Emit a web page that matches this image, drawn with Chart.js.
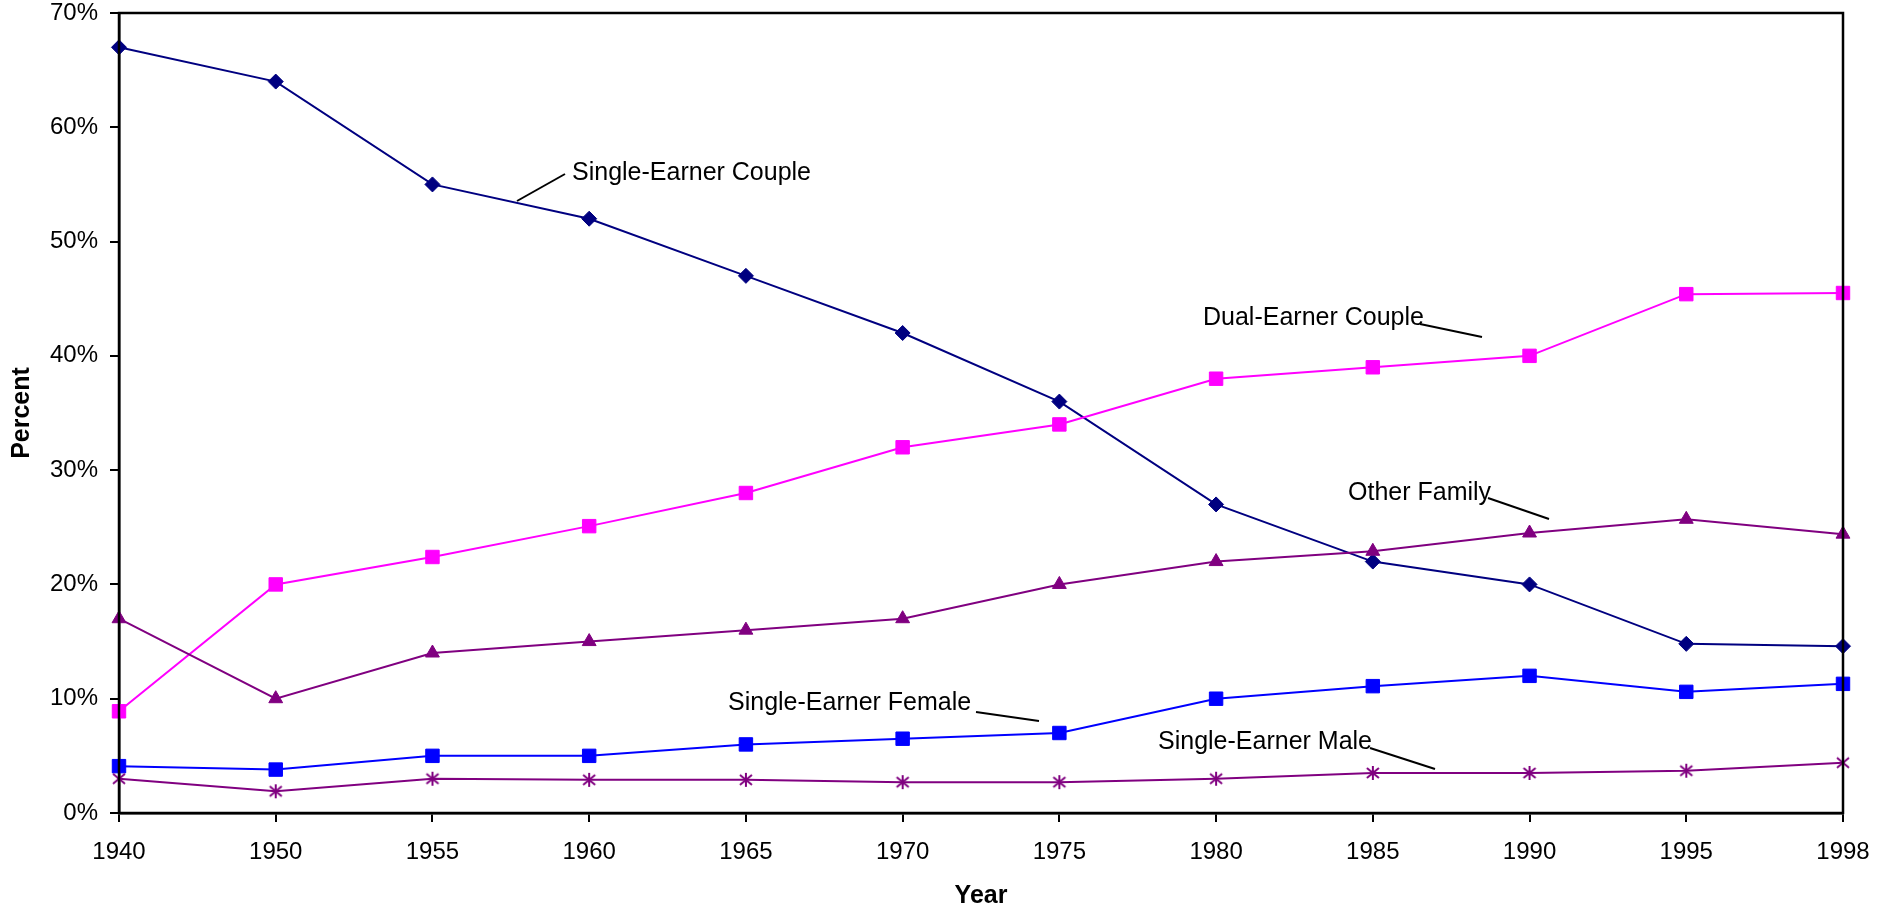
<!DOCTYPE html>
<html>
<head>
<meta charset="utf-8">
<script src="https://cdn.jsdelivr.net/npm/chart.js@4/dist/chart.umd.min.js"></script>
<style>
  html, body { margin: 0; padding: 0; background: #fff; }
  #wrap { width: 1894px; height: 912px; }
</style>
</head>
<body>
<div id="wrap"><canvas id="chart" width="1894" height="912"></canvas></div>
<script>
// data
const years = ['1940', '1950', '1955', '1960', '1965', '1970', '1975', '1980', '1985', '1990', '1995', '1998'];
const singleEarnerCouple = [67, 64, 55, 52, 47, 42, 36, 27, 22, 20, 14.8, 14.6];
const dualEarnerCouple = [8.9, 20, 22.4, 25.1, 28, 32, 34, 38, 39, 40, 45.4, 45.5];
const otherFamily = [17, 10, 14, 15, 16, 17, 20, 22, 22.9, 24.5, 25.7, 24.4];
const singleEarnerFemale = [4.1, 3.8, 5, 5, 6, 6.5, 7, 10, 11.1, 12, 10.6, 11.3];
const singleEarnerMale = [3, 1.9, 3, 2.9, 2.9, 2.7, 2.7, 3, 3.5, 3.5, 3.7, 4.4];

const FONT = 'Liberation Sans, Arial, sans-serif';

// callout labels with leader lines (canvas px)
const callouts = [
  { text: 'Single-Earner Couple', x: 572, y: 173, line: [565, 174, 517, 201] },
  { text: 'Dual-Earner Couple', x: 1203, y: 318, line: [1420, 324, 1482, 337] },
  { text: 'Other Family', x: 1348, y: 493, line: [1488, 498, 1549, 519] },
  { text: 'Single-Earner Female', x: 728, y: 703, line: [976, 712, 1039, 721] },
  { text: 'Single-Earner Male', x: 1158, y: 742, line: [1370, 748, 1435, 769] }
];

// Excel-like asterisk marker: X plus a vertical bar
function asterisk(color) {
  const c = document.createElement('canvas');
  c.width = 16; c.height = 16;
  const g = c.getContext('2d');
  g.strokeStyle = color;
  g.lineWidth = 2;
  g.beginPath();
  g.moveTo(2, 3); g.lineTo(14, 13);
  g.moveTo(14, 3); g.lineTo(2, 13);
  g.moveTo(8, 1); g.lineTo(8, 15);
  g.stroke();
  return c;
}

const calloutPlugin = {
  id: 'callouts',
  afterDraw(chart) {
    const ctx = chart.ctx;
    const a = chart.chartArea;
    ctx.save();
    // frame on top and right
    ctx.strokeStyle = '#000';
    ctx.lineWidth = 2.5;
    ctx.strokeRect(a.left, a.top, a.right - a.left, a.bottom - a.top);
    ctx.font = '25px ' + FONT;
    ctx.fillStyle = '#000';
    ctx.textAlign = 'left';
    ctx.textBaseline = 'middle';
    ctx.lineWidth = 2;
    callouts.forEach(c => {
      ctx.fillText(c.text, c.x, c.y);
      ctx.beginPath();
      ctx.moveTo(c.line[0], c.line[1]);
      ctx.lineTo(c.line[2], c.line[3]);
      ctx.stroke();
    });
    ctx.restore();
  }
};

const whiteBg = {
  id: 'whiteBg',
  beforeDraw(chart) {
    const ctx = chart.ctx;
    ctx.save();
    ctx.fillStyle = '#fff';
    ctx.fillRect(0, 0, chart.width, chart.height);
    ctx.restore();
  }
};

function series(label, data, color, style, radius) {
  return {
    label: label,
    data: data,
    borderColor: color,
    backgroundColor: color,
    borderWidth: 2,
    pointStyle: style,
    pointRadius: radius,
    pointBorderWidth: 1,
    pointBackgroundColor: color,
    pointBorderColor: color,
    tension: 0,
    clip: false
  };
}

new Chart(document.getElementById('chart'), {
  type: 'line',
  data: {
    labels: years,
    datasets: [
      series('Single-Earner Male', singleEarnerMale, '#800080', asterisk('#800080'), 8),
      series('Single-Earner Female', singleEarnerFemale, '#0000FF', 'rect', 9.5),
      series('Other Family', otherFamily, '#800080', 'triangle', 8),
      series('Dual-Earner Couple', dualEarnerCouple, '#FF00FF', 'rect', 9.5),
      series('Single-Earner Couple', singleEarnerCouple, '#000080', 'rectRot', 7.5)
    ]
  },
  options: {
    responsive: false,
    animation: false,
    layout: { padding: { left: 0, top: 13, right: 51, bottom: 0 } },
    plugins: {
      legend: { display: false },
      tooltip: { enabled: false }
    },
    scales: {
      x: {
        offset: false,
        grid: { drawOnChartArea: false, drawTicks: true, tickLength: 9, color: '#000', lineWidth: 2 },
        border: { display: true, color: '#000', width: 2.5 },
        ticks: { color: '#000', font: { family: FONT, size: 24 }, padding: 16, maxRotation: 0, autoSkip: false },
        title: { display: true, text: 'Year', color: '#000', font: { family: FONT, size: 25, weight: 'bold' }, padding: { top: 0, bottom: 1 } },
        afterFit(scale) { scale.height = 99; scale.paddingLeft = 0; scale.paddingRight = 0; }
      },
      y: {
        min: 0,
        max: 70,
        grid: { drawOnChartArea: false, drawTicks: true, tickLength: 9, color: '#000', lineWidth: 2 },
        border: { display: true, color: '#000', width: 2.5 },
        ticks: { stepSize: 10, color: '#000', font: { family: FONT, size: 24 }, padding: 12, callback: v => v + '%' },
        title: { display: true, text: 'Percent', color: '#000', font: { family: FONT, size: 25, weight: 'bold' }, padding: { top: 7, bottom: 0 } },
        afterFit(scale) { scale.width = 119; scale.paddingTop = 0; scale.paddingBottom = 0; }
      }
    }
  },
  plugins: [whiteBg, calloutPlugin]
});
</script>
</body>
</html>
